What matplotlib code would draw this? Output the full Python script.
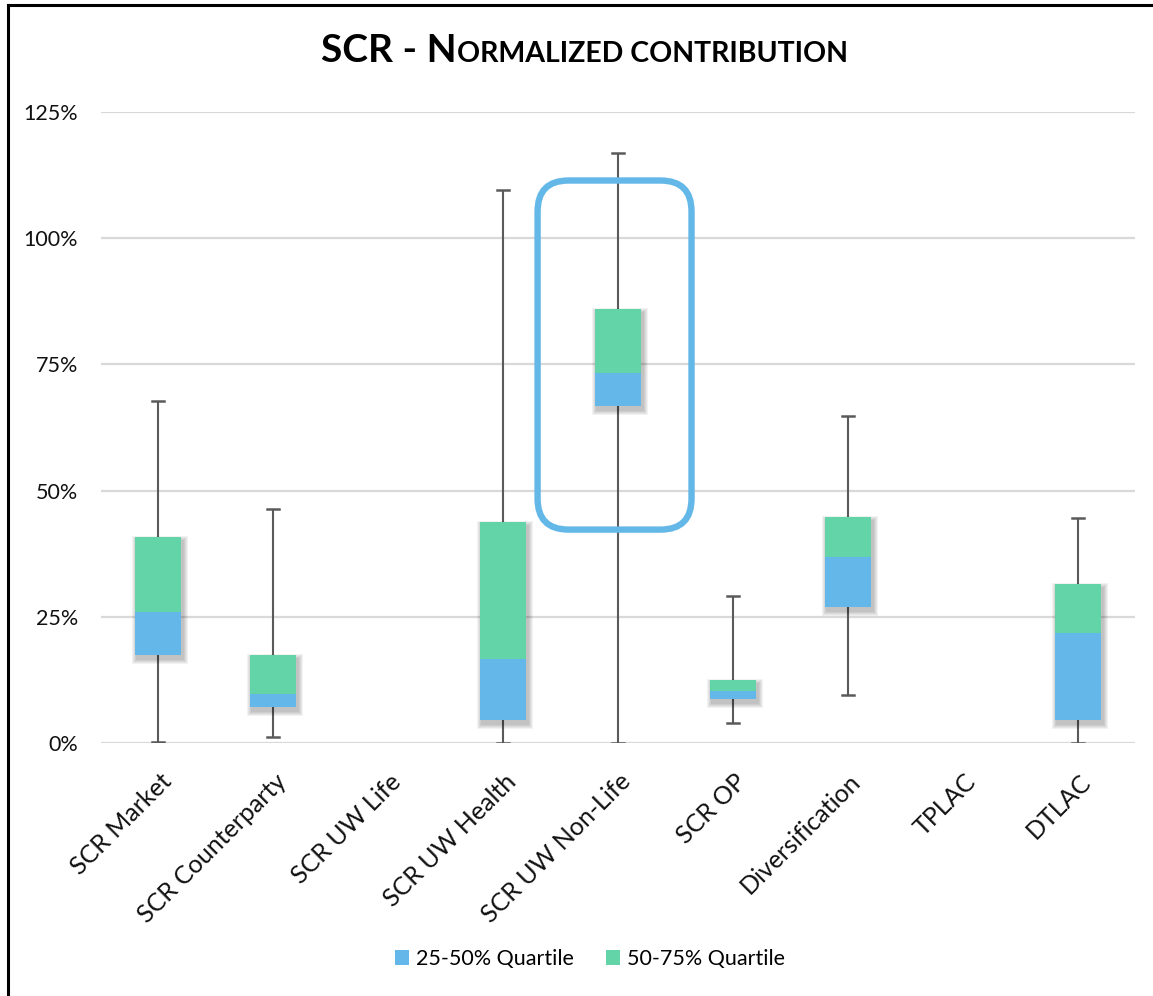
import numpy as np
import matplotlib
matplotlib.use("Agg")
import matplotlib.pyplot as plt
import matplotlib.transforms as mtransforms
from matplotlib.patches import Rectangle, FancyBboxPatch, Patch
from matplotlib.lines import Line2D

plt.rcParams['font.family'] = ['Lato', 'DejaVu Sans']

categories = ["SCR Market", "SCR Counterparty", "SCR UW Life", "SCR UW Health",
              "SCR UW Non-Life", "SCR OP", "Diversification", "TPLAC", "DTLAC"]
# quartile statistics in %, NaN where no data
whisker_low = [0.3, 1.3, np.nan, 0.0, 0.0, 4.0, 9.6, np.nan, 0.0]
q1 = [17.4, 7.1, np.nan, 4.7, 66.8, 8.7, 26.9, np.nan, 4.7]
median = [25.9, 9.8, np.nan, 16.6, 73.3, 10.3, 36.9, np.nan, 21.8]
q3 = [40.9, 17.4, np.nan, 43.8, 85.9, 12.6, 44.8, np.nan, 31.5]
whisker_high = [67.8, 46.3, np.nan, 109.5, 116.9, 29.2, 64.8, np.nan, 44.5]
yticks = [0, 25, 50, 75, 100, 125]

blue = "#63B7E9"
green = "#63D4A8"
whisk = "#5A5A5A"

W, H = 1153, 996
fig = plt.figure(figsize=(W / 100, H / 100), dpi=100)
ax = fig.add_axes([101 / W, 252.7 / H, (1135 - 101) / W, (884.2 - 252.7) / H])

n = len(categories)
x = np.arange(n)
ax.set_xlim(-0.5, n - 0.5)
ax.set_ylim(0, 125)

px_x = n / (1135 - 101)
px_y = 125 / (884.2 - 252.7)

box_w = 0.40
cap_w = 0.105

for i in range(n):
    if np.isnan(q1[i]):
        continue
    # whisker and caps
    ax.plot([x[i], x[i]], [whisker_low[i], whisker_high[i]], color=whisk, lw=1.5, zorder=2,
            solid_capstyle='butt')
    for yy in (whisker_low[i], whisker_high[i]):
        ax.plot([x[i] - cap_w / 2, x[i] + cap_w / 2], [yy, yy], color=whisk, lw=1.8, zorder=2)
    # soft drop shadow, offset down and to the right
    for k in range(1, 6):
        ax.add_patch(Rectangle((x[i] - box_w / 2 + 2 * px_x - k * px_x,
                                q1[i] - 4 * px_y - k * px_y),
                               box_w + 2 * k * px_x, q3[i] - q1[i] + 2 * k * px_y,
                               facecolor='black', edgecolor='none', alpha=0.05, zorder=3))
    ax.add_patch(Rectangle((x[i] - box_w / 2, q1[i]), box_w, median[i] - q1[i],
                           facecolor=blue, edgecolor='none', zorder=4))
    ax.add_patch(Rectangle((x[i] - box_w / 2, median[i]), box_w, q3[i] - median[i],
                           facecolor=green, edgecolor='none', zorder=4))

# highlight around SCR UW Non-Life
hl = FancyBboxPatch((4 - 0.70, 42.3), 1.34, 111.4 - 42.3,
                    boxstyle="round,pad=0,rounding_size=0.27",
                    mutation_aspect=px_y / px_x,
                    facecolor='none', edgecolor="#63B8E8", lw=4.6, zorder=5)
ax.add_patch(hl)

ax.set_yticks(yticks)
ax.set_yticklabels([f"{v}%" for v in yticks], fontsize=15.5, color='#111111')
ax.grid(axis='y', color='#D9D9D9', lw=1.6, zorder=0)
ax.set_axisbelow(True)
for s in ax.spines.values():
    s.set_visible(False)
ax.tick_params(axis='both', length=0)
ax.tick_params(axis='y', pad=16.5)

ax.set_xticks(x)
ax.set_xticklabels(categories, rotation=45, ha='right', va='top', rotation_mode='anchor',
                   fontsize=18, color='#111111')
ax.tick_params(axis='x', pad=19)
shift = mtransforms.ScaledTranslation(1 / 100, 0, fig.dpi_scale_trans)
for lbl in ax.get_xticklabels():
    lbl.set_transform(lbl.get_transform() + shift)

# title in small caps
renderer = fig.canvas.get_renderer()
tx = 321
for s, size in [("SCR - N", 28), ("ORMALIZED CONTRIBUTION", 20.5)]:
    t = fig.text(tx / W, 934 / H, s, fontsize=size, fontweight='bold', ha='left',
                 va='baseline', color='black')
    tx = t.get_window_extent(renderer).x1

handles = [Patch(facecolor=blue, edgecolor='none', label="25-50% Quartile"),
           Patch(facecolor=green, edgecolor='none', label="50-75% Quartile")]
fig.legend(handles=handles, loc='center', bbox_to_anchor=(590 / W, 37 / H), ncol=2,
           frameon=False, fontsize=15.5, handlelength=0.65, handleheight=0.65,
           handletextpad=0.3, columnspacing=1.5)

# outer frame, top and left edges
fig.add_artist(Line2D([7.5 / W, 1], [991 / H, 991 / H], transform=fig.transFigure,
                      color='black', lw=2.2))
fig.add_artist(Line2D([7.5 / W, 7.5 / W], [0, 991 / H], transform=fig.transFigure,
                      color='black', lw=2.2))

fig.savefig("out.png", dpi=100)
